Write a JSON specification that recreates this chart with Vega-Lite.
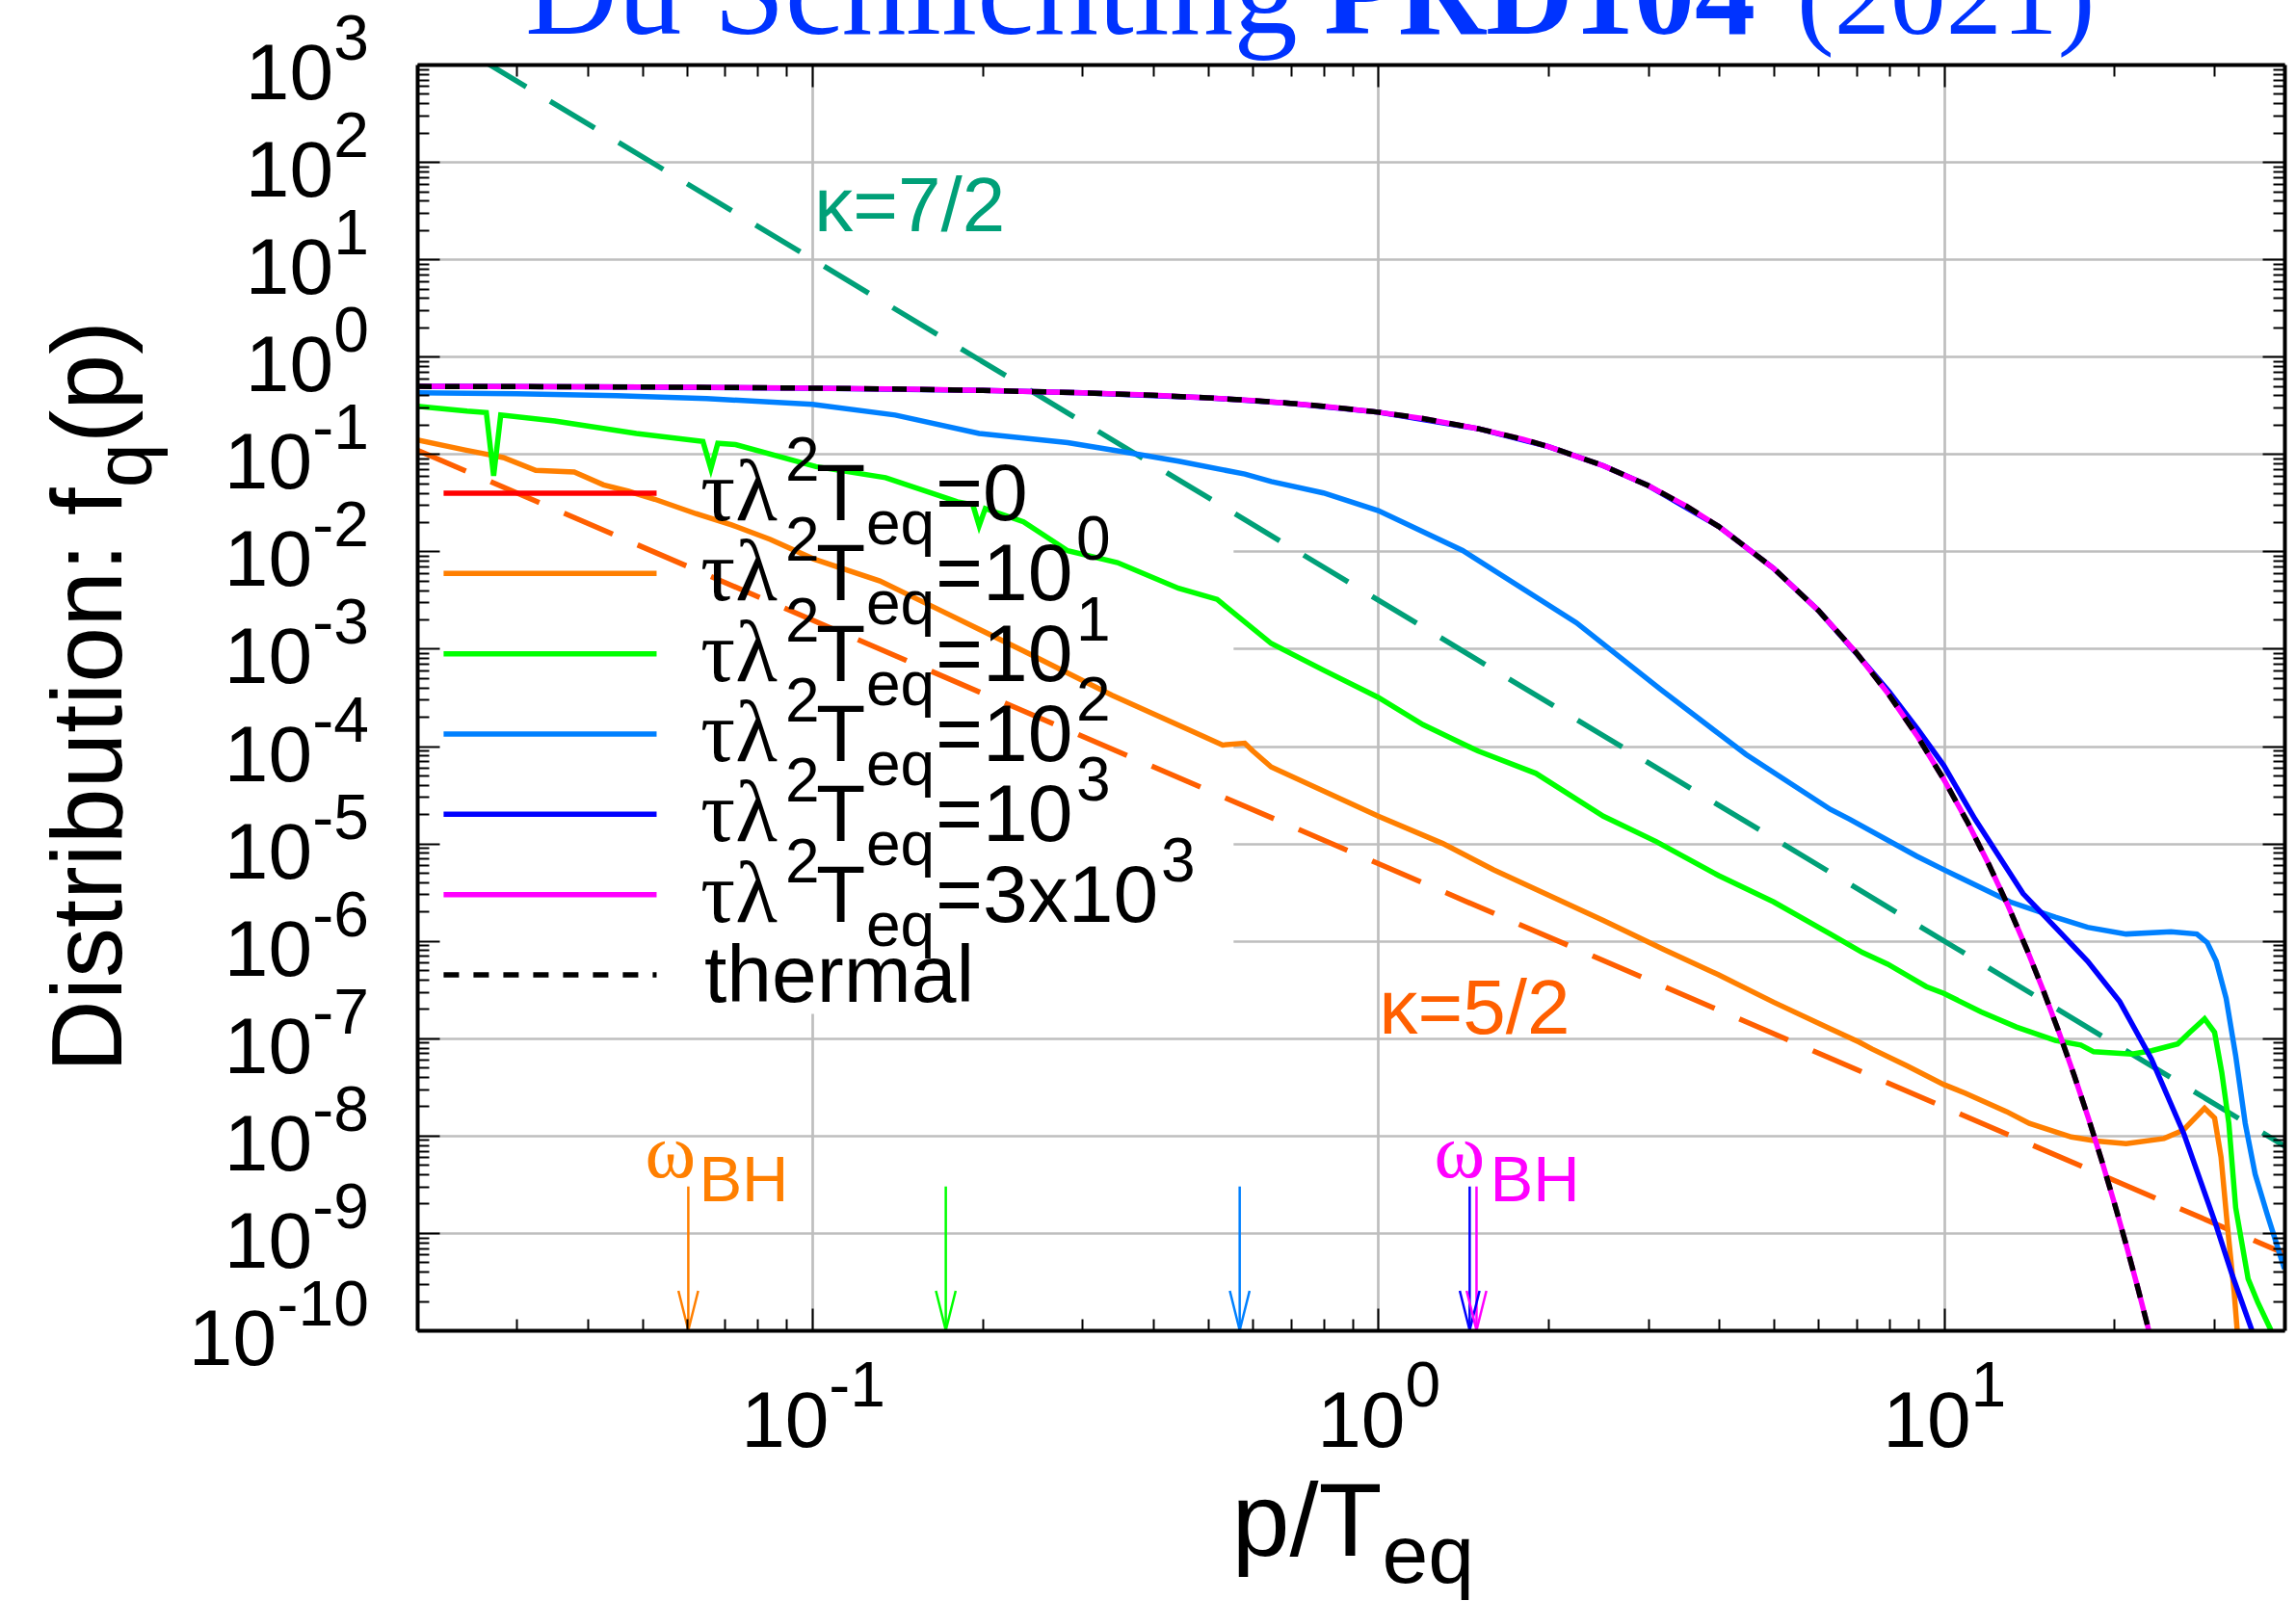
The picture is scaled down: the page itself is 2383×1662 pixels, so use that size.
{
 "$schema": "https://vega.github.io/schema/vega-lite/v6.json",
 "width": 1938,
 "height": 1314,
 "autosize": {"type": "none"},
 "padding": {"left": 433, "top": 67, "right": 12, "bottom": 281},
 "background": "white",
 "config": {"view": {"stroke": null}, "text": {"baseline": "alphabetic", "font": "Liberation Sans", "color": "black"}},
 "datasets": {
  "curves": [
   {"s":"1e0","x":0.02,"y":0.1396},{"s":"1e0","x":0.0243,"y":0.1099},{"s":"1e0","x":0.0284,"y":0.092},{"s":"1e0","x":0.0324,"y":0.0679},{"s":"1e0","x":0.0379,"y":0.0653},{"s":"1e0","x":0.0427,"y":0.0482},{"s":"1e0","x":0.0473,"y":0.0414},{"s":"1e0","x":0.0526,"y":0.0343},{"s":"1e0","x":0.0622,"y":0.0244},{"s":"1e0","x":0.0719,"y":0.0187},{"s":"1e0","x":0.0842,"y":0.01327},{"s":"1e0","x":0.1003,"y":0.008395},{"s":"1e0","x":0.1315,"y":0.004966},{"s":"1e0","x":0.1683,"y":0.002477},{"s":"1e0","x":0.236,"y":0.0009484},{"s":"1e0","x":0.3384,"y":0.0003334},{"s":"1e0","x":0.5309,"y":0.0001026},{"s":"1e0","x":0.5808,"y":0.0001072},{"s":"1e0","x":0.6,"y":8.913e-5},{"s":"1e0","x":0.647,"y":6.095e-5},{"s":"1e0","x":1.0,"y":1.905e-5},{"s":"1e0","x":1.3,"y":1.0e-5},{"s":"1e0","x":1.6,"y":5.37e-6},{"s":"1e0","x":2.0,"y":2.951e-6},{"s":"1e0","x":2.5,"y":1.622e-6},{"s":"1e0","x":3.2,"y":8.128e-7},{"s":"1e0","x":4.0,"y":4.467e-7},{"s":"1e0","x":5.0,"y":2.344e-7},{"s":"1e0","x":6.3,"y":1.25e-7},{"s":"1e0","x":7.08,"y":9.12e-8},{"s":"1e0","x":7.46,"y":7.762e-8},{"s":"1e0","x":8.61,"y":5.188e-8},{"s":"1e0","x":10,"y":3.342e-8},{"s":"1e0","x":10.9,"y":2.735e-8},{"s":"1e0","x":12.9,"y":1.766e-8},{"s":"1e0","x":14.16,"y":1.334e-8},{"s":"1e0","x":16.8,"y":9.683e-9},{"s":"1e0","x":18.6,"y":8.79e-9},{"s":"1e0","x":21.0,"y":8.26e-9},{"s":"1e0","x":24.5,"y":9.333e-9},{"s":"1e0","x":26.5,"y":1.138e-8},{"s":"1e0","x":28.9,"y":1.91e-8},{"s":"1e0","x":30.1,"y":1.514e-8},{"s":"1e0","x":30.9,"y":6.026e-9},{"s":"1e0","x":31.7,"y":1.211e-9},{"s":"1e0","x":32.6,"y":2.449e-10},{"s":"1e0","x":33.0,"y":1.0e-10},{"s":"1e0","x":33.3,"y":5.01e-11},
   {"s":"1e1","x":0.02,"y":0.3097},{"s":"1e1","x":0.0245,"y":0.2754},{"s":"1e1","x":0.0265,"y":0.2661},{"s":"1e1","x":0.0273,"y":0.0597},{"s":"1e1","x":0.0281,"y":0.2512},{"s":"1e1","x":0.035,"y":0.2188},{"s":"1e1","x":0.0488,"y":0.1626},{"s":"1e1","x":0.064,"y":0.1349},{"s":"1e1","x":0.0661,"y":0.07096},{"s":"1e1","x":0.068,"y":0.1288},{"s":"1e1","x":0.0731,"y":0.125},{"s":"1e1","x":0.1014,"y":0.0743},{"s":"1e1","x":0.1346,"y":0.05715},{"s":"1e1","x":0.1803,"y":0.03236},{"s":"1e1","x":0.192,"y":0.0302},{"s":"1e1","x":0.197,"y":0.01837},{"s":"1e1","x":0.202,"y":0.02754},{"s":"1e1","x":0.236,"y":0.02009},{"s":"1e1","x":0.2825,"y":0.01016},{"s":"1e1","x":0.346,"y":0.007674},{"s":"1e1","x":0.4436,"y":0.004178},{"s":"1e1","x":0.519,"y":0.003214},{"s":"1e1","x":0.647,"y":0.001132},{"s":"1e1","x":0.8,"y":0.000603},{"s":"1e1","x":1.0,"y":0.0003162},{"s":"1e1","x":1.2,"y":0.000166},{"s":"1e1","x":1.5,"y":8.913e-5},{"s":"1e1","x":1.9,"y":5.25e-5},{"s":"1e1","x":2.5,"y":1.905e-5},{"s":"1e1","x":3.1,"y":1.047e-5},{"s":"1e1","x":4.0,"y":4.677e-6},{"s":"1e1","x":5.0,"y":2.51e-6},{"s":"1e1","x":6.3,"y":1.175e-6},{"s":"1e1","x":7.18,"y":7.586e-7},{"s":"1e1","x":7.96,"y":5.754e-7},{"s":"1e1","x":9.31,"y":3.388e-7},{"s":"1e1","x":10,"y":2.884e-7},{"s":"1e1","x":11.64,"y":1.862e-7},{"s":"1e1","x":13.43,"y":1.303e-7},{"s":"1e1","x":15.74,"y":9.462e-8},{"s":"1e1","x":17.46,"y":8.511e-8},{"s":"1e1","x":18.4,"y":7.261e-8},{"s":"1e1","x":21.5,"y":6.871e-8},{"s":"1e1","x":23.3,"y":7.447e-8},{"s":"1e1","x":25.9,"y":8.73e-8},{"s":"1e1","x":27.2,"y":1.148e-7},{"s":"1e1","x":28.9,"y":1.585e-7},{"s":"1e1","x":30.1,"y":1.148e-7},{"s":"1e1","x":31.0,"y":4.426e-8},{"s":"1e1","x":31.9,"y":1.334e-8},{"s":"1e1","x":32.8,"y":1.82e-9},{"s":"1e1","x":34.5,"y":3.388e-10},{"s":"1e1","x":35.9,"y":1.928e-10},{"s":"1e1","x":37.8,"y":1.023e-10},{"s":"1e1","x":38.5,"y":6.31e-11},
   {"s":"1e2","x":0.02,"y":0.4256},{"s":"1e2","x":0.03,"y":0.4169},{"s":"1e2","x":0.045,"y":0.3981},{"s":"1e2","x":0.065,"y":0.3715},{"s":"1e2","x":0.1,"y":0.3236},{"s":"1e2","x":0.14,"y":0.2512},{"s":"1e2","x":0.197,"y":0.1626},{"s":"1e2","x":0.2825,"y":0.1306},{"s":"1e2","x":0.354,"y":0.1052},{"s":"1e2","x":0.4436,"y":0.08453},{"s":"1e2","x":0.581,"y":0.06223},{"s":"1e2","x":0.647,"y":0.05224},{"s":"1e2","x":0.8,"y":0.0398},{"s":"1e2","x":1.0,"y":0.0262},{"s":"1e2","x":1.41,"y":0.0102},{"s":"1e2","x":2.24,"y":0.00185},{"s":"1e2","x":3.16,"y":0.00038},{"s":"1e2","x":4.47,"y":8.2e-5},{"s":"1e2","x":6.3,"y":2.239e-5},{"s":"1e2","x":6.81,"y":1.778e-5},{"s":"1e2","x":8.95,"y":7.413e-6},{"s":"1e2","x":10,"y":5.37e-6},{"s":"1e2","x":13.1,"y":2.512e-6},{"s":"1e2","x":15.74,"y":1.75e-6},{"s":"1e2","x":17.95,"y":1.377e-6},{"s":"1e2","x":21.0,"y":1.175e-6},{"s":"1e2","x":25.2,"y":1.242e-6},{"s":"1e2","x":28.0,"y":1.175e-6},{"s":"1e2","x":29.2,"y":9.616e-7},{"s":"1e2","x":30.3,"y":6.194e-7},{"s":"1e2","x":31.55,"y":2.57e-7},{"s":"1e2","x":32.8,"y":6.607e-8},{"s":"1e2","x":34.1,"y":1.334e-8},{"s":"1e2","x":35.5,"y":4.018e-9},{"s":"1e2","x":37.3,"y":1.549e-9},{"s":"1e2","x":40,"y":4.285e-10},
   {"s":"1e3","x":0.02,"y":0.495},{"s":"1e3","x":0.05,"y":0.4875},{"s":"1e3","x":0.1,"y":0.475},{"s":"1e3","x":0.2,"y":0.4502},{"s":"1e3","x":0.3,"y":0.4256},{"s":"1e3","x":0.5,"y":0.3775},{"s":"1e3","x":0.7,"y":0.3318},{"s":"1e3","x":1.0,"y":0.2689},{"s":"1e3","x":1.5,"y":0.1824},{"s":"1e3","x":2.0,"y":0.1192},{"s":"1e3","x":2.5,"y":0.07586},{"s":"1e3","x":3,"y":0.04743},{"s":"1e3","x":4,"y":0.01799},{"s":"1e3","x":5,"y":0.006693},{"s":"1e3","x":6,"y":0.002473},{"s":"1e3","x":7,"y":0.0009},{"s":"1e3","x":8,"y":0.000363},{"s":"1e3","x":9,"y":0.000148},{"s":"1e3","x":10,"y":6.3e-5},{"s":"1e3","x":11.35,"y":1.78e-5},{"s":"1e3","x":13.8,"y":3.06e-6},{"s":"1e3","x":15.74,"y":1.38e-6},{"s":"1e3","x":17.95,"y":6.19e-7},{"s":"1e3","x":20.46,"y":2.37e-7},{"s":"1e3","x":23.28,"y":6.1e-8},{"s":"1e3","x":26.55,"y":1.05e-8},{"s":"1e3","x":30.27,"y":1.21e-9},{"s":"1e3","x":32.36,"y":3.66e-10},{"s":"1e3","x":35.0,"y":1.02e-10},{"s":"1e3","x":36.0,"y":4.5e-11},
   {"s":"3e3","x":0.02,"y":0.495},{"s":"3e3","x":0.03,"y":0.4925},{"s":"3e3","x":0.05,"y":0.4875},{"s":"3e3","x":0.07,"y":0.4825},{"s":"3e3","x":0.1,"y":0.475},{"s":"3e3","x":0.15,"y":0.4626},{"s":"3e3","x":0.2,"y":0.4502},{"s":"3e3","x":0.3,"y":0.4256},{"s":"3e3","x":0.4,"y":0.4013},{"s":"3e3","x":0.5,"y":0.3775},{"s":"3e3","x":0.6,"y":0.3543},{"s":"3e3","x":0.7,"y":0.3318},{"s":"3e3","x":0.8,"y":0.31},{"s":"3e3","x":1.0,"y":0.2689},{"s":"3e3","x":1.2,"y":0.2315},{"s":"3e3","x":1.5,"y":0.1824},{"s":"3e3","x":1.8,"y":0.1419},{"s":"3e3","x":2.0,"y":0.1192},{"s":"3e3","x":2.5,"y":0.07586},{"s":"3e3","x":3,"y":0.04743},{"s":"3e3","x":3.5,"y":0.02931},{"s":"3e3","x":4,"y":0.01799},{"s":"3e3","x":5,"y":0.006693},{"s":"3e3","x":6,"y":0.002473},{"s":"3e3","x":7,"y":0.0009111},{"s":"3e3","x":8,"y":0.0003354},{"s":"3e3","x":9,"y":0.0001234},{"s":"3e3","x":10,"y":4.54e-5},{"s":"3e3","x":11,"y":1.67e-5},{"s":"3e3","x":12,"y":6.144e-6},{"s":"3e3","x":13,"y":2.26e-6},{"s":"3e3","x":14,"y":8.315e-7},{"s":"3e3","x":15,"y":3.059e-7},{"s":"3e3","x":16,"y":1.125e-7},{"s":"3e3","x":17,"y":4.14e-8},{"s":"3e3","x":18,"y":1.523e-8},{"s":"3e3","x":19,"y":5.603e-9},{"s":"3e3","x":20,"y":2.061e-9},{"s":"3e3","x":21,"y":7.583e-10},{"s":"3e3","x":22,"y":2.79e-10},{"s":"3e3","x":23,"y":1.026e-10},{"s":"3e3","x":24,"y":3.775e-11},
   {"s":"thermal","x":0.02,"y":0.495},{"s":"thermal","x":0.03,"y":0.4925},{"s":"thermal","x":0.05,"y":0.4875},{"s":"thermal","x":0.07,"y":0.4825},{"s":"thermal","x":0.1,"y":0.475},{"s":"thermal","x":0.15,"y":0.4626},{"s":"thermal","x":0.2,"y":0.4502},{"s":"thermal","x":0.3,"y":0.4256},{"s":"thermal","x":0.4,"y":0.4013},{"s":"thermal","x":0.5,"y":0.3775},{"s":"thermal","x":0.6,"y":0.3543},{"s":"thermal","x":0.7,"y":0.3318},{"s":"thermal","x":0.8,"y":0.31},{"s":"thermal","x":1.0,"y":0.2689},{"s":"thermal","x":1.2,"y":0.2315},{"s":"thermal","x":1.5,"y":0.1824},{"s":"thermal","x":1.8,"y":0.1419},{"s":"thermal","x":2.0,"y":0.1192},{"s":"thermal","x":2.5,"y":0.07586},{"s":"thermal","x":3,"y":0.04743},{"s":"thermal","x":3.5,"y":0.02931},{"s":"thermal","x":4,"y":0.01799},{"s":"thermal","x":5,"y":0.006693},{"s":"thermal","x":6,"y":0.002473},{"s":"thermal","x":7,"y":0.0009111},{"s":"thermal","x":8,"y":0.0003354},{"s":"thermal","x":9,"y":0.0001234},{"s":"thermal","x":10,"y":4.54e-5},{"s":"thermal","x":11,"y":1.67e-5},{"s":"thermal","x":12,"y":6.144e-6},{"s":"thermal","x":13,"y":2.26e-6},{"s":"thermal","x":14,"y":8.315e-7},{"s":"thermal","x":15,"y":3.059e-7},{"s":"thermal","x":16,"y":1.125e-7},{"s":"thermal","x":17,"y":4.14e-8},{"s":"thermal","x":18,"y":1.523e-8},{"s":"thermal","x":19,"y":5.603e-9},{"s":"thermal","x":20,"y":2.061e-9},{"s":"thermal","x":21,"y":7.583e-10},{"s":"thermal","x":22,"y":2.79e-10},{"s":"thermal","x":23,"y":1.026e-10},{"s":"thermal","x":24,"y":3.775e-11}
  ],
  "kappa": [
   {"k":"7/2","x":0.026,"y":1115},{"k":"7/2","x":40,"y":7.816e-9},
   {"k":"5/2","x":0.02,"y":0.1098},{"k":"5/2","x":40,"y":6.14e-10}
  ],
  "arrows": [
   {"s":"1e0","x":0.0603},{"s":"1e1","x":0.172},{"s":"1e2","x":0.569},{"s":"1e3","x":1.451},{"s":"3e3","x":1.492}
  ],
  "ydec": [
   {"v":1000,"e":"3"},{"v":100,"e":"2"},{"v":10,"e":"1"},{"v":1,"e":"0"},{"v":0.1,"e":"-1"},{"v":0.01,"e":"-2"},{"v":0.001,"e":"-3"},{"v":0.0001,"e":"-4"},{"v":1e-5,"e":"-5"},{"v":1e-6,"e":"-6"},{"v":1e-7,"e":"-7"},{"v":1e-8,"e":"-8"},{"v":1e-9,"e":"-9"},{"v":1e-10,"e":"-10"}
  ],
  "xdec": [
   {"v":0.1,"e":"-1"},{"v":1,"e":"0"},{"v":10,"e":"1"}
  ],
  "legend": [
   {"s":"0","lab":"=0","ex":""},{"s":"1e0","lab":"=10","ex":"0"},{"s":"1e1","lab":"=10","ex":"1"},{"s":"1e2","lab":"=10","ex":"2"},{"s":"1e3","lab":"=10","ex":"3"},{"s":"3e3","lab":"=3x10","ex":"3"},{"s":"thermal","lab":"thermal","ex":""}
  ]
 },
 "layer": [
  {
   "layer": [
    {"data":{"values":[{}]},"mark":{"type":"rect","color":"white"},
     "encoding":{"x":{"datum":0.02,"type":"quantitative","scale":{"type":"log","domain":[0.02,40],"nice":false},"axis":null},"x2":{"datum":0.555},
      "y":{"datum":0.0933,"type":"quantitative","scale":{"type":"log","domain":[1e-10,1000],"nice":false},"axis":null},"y2":{"datum":1.778e-7}}},
    {"data":{"name":"kappa"},"transform":[{"filter":"datum.k == '7/2'"}],
     "mark":{"type":"line","color":"#00a078","strokeWidth":5.5,"strokeDash":[54,29],"clip":true},
     "encoding":{
      "x":{"field":"x","type":"quantitative","scale":{"type":"log","domain":[0.02,40],"nice":false},
       "axis":{"orient":"bottom","values":[0.1,1,10],"grid":true,"gridColor":"#bebebe","gridWidth":2.7,"ticks":false,"domain":false,"labels":false,"title":null,"zindex":0}},
      "y":{"field":"y","type":"quantitative","scale":{"type":"log","domain":[1e-10,1000],"nice":false},
       "axis":{"orient":"left","values":[1e-10,1e-9,1e-8,1e-7,1e-6,1e-5,1e-4,1e-3,0.01,0.1,1,10,100,1000],"grid":true,"gridColor":"#bebebe","gridWidth":2.7,"ticks":false,"domain":false,"labels":false,"title":null,"zindex":0}}}},
    {"data":{"name":"kappa"},"transform":[{"filter":"datum.k == '5/2'"}],
     "mark":{"type":"line","color":"#ff5f00","strokeWidth":5.5,"strokeDash":[55,28],"clip":true},
     "encoding":{
      "x":{"field":"x","type":"quantitative","scale":{"type":"log","domain":[0.02,40],"nice":false},
       "axis":{"orient":"bottom","values":[0.1,1,10],"grid":false,"ticks":true,"tickSize":-23,"tickWidth":2,"tickColor":"black","domain":true,"domainColor":"black","domainWidth":4,"labels":false,"title":null,"zindex":1}},
      "y":{"field":"y","type":"quantitative","scale":{"type":"log","domain":[1e-10,1000],"nice":false},
       "axis":{"orient":"left","values":[1e-10,1e-9,1e-8,1e-7,1e-6,1e-5,1e-4,1e-3,0.01,0.1,1,10,100,1000],"grid":false,"ticks":true,"tickSize":-23,"tickWidth":2,"tickColor":"black","domain":true,"domainColor":"black","domainWidth":4,"labels":false,"title":null,"zindex":1}}}},
    {"data":{"name":"curves"},"transform":[{"filter":{"field":"s","oneOf":["1e0","1e1","1e2","1e3"]}}],
     "mark":{"type":"line","strokeWidth":5.5,"clip":true},
     "encoding":{
      "x":{"field":"x","type":"quantitative","scale":{"type":"log","domain":[0.02,40],"nice":false},
       "axis":{"orient":"bottom","values":[0.03,0.04,0.05,0.06,0.07,0.08,0.09,0.2,0.3,0.4,0.5,0.6,0.7,0.8,0.9,2,3,4,5,6,7,8,9,20,30],"grid":false,"ticks":true,"tickSize":-12,"tickWidth":2,"tickColor":"black","domain":false,"labels":false,"title":null,"zindex":1}},
      "y":{"field":"y","type":"quantitative","scale":{"type":"log","domain":[1e-10,1000],"nice":false},
       "axis":{"orient":"left","values":[2e-10,3e-10,4e-10,5e-10,6e-10,7e-10,8e-10,9e-10,2e-9,3e-9,4e-9,5e-9,6e-9,7e-9,8e-9,9e-9,2e-8,3e-8,4e-8,5e-8,6e-8,7e-8,8e-8,9e-8,2e-7,3e-7,4e-7,5e-7,6e-7,7e-7,8e-7,9e-7,2e-6,3e-6,4e-6,5e-6,6e-6,7e-6,8e-6,9e-6,2e-5,3e-5,4e-5,5e-5,6e-5,7e-5,8e-5,9e-5,2e-4,3e-4,4e-4,5e-4,6e-4,7e-4,8e-4,9e-4,0.002,0.003,0.004,0.005,0.006,0.007,0.008,0.009,0.02,0.03,0.04,0.05,0.06,0.07,0.08,0.09,0.2,0.3,0.4,0.5,0.6,0.7,0.8,0.9,2,3,4,5,6,7,8,9,20,30,40,50,60,70,80,90,200,300,400,500,600,700,800,900],"grid":false,"ticks":true,"tickSize":-12,"tickWidth":2,"tickColor":"black","domain":false,"labels":false,"title":null,"zindex":1}},
      "color":{"field":"s","type":"nominal","scale":{"domain":["0","1e0","1e1","1e2","1e3","3e3","thermal"],"range":["#ff0000","#ff7f00","#00ff00","#0080ff","#0000ff","#ff00ff","#000000"]},"legend":null}}},
    {"data":{"name":"curves"},"transform":[{"filter":"datum.s == '3e3'"}],
     "mark":{"type":"line","color":"#ff00ff","strokeWidth":5.5,"clip":true},
     "encoding":{
      "x":{"field":"x","type":"quantitative","scale":{"type":"log","domain":[0.02,40],"nice":false},
       "axis":{"orient":"top","values":[0.1,1,10],"grid":false,"ticks":true,"tickSize":-23,"tickWidth":2,"tickColor":"black","domain":true,"domainColor":"black","domainWidth":4,"labels":false,"title":null,"zindex":1}},
      "y":{"field":"y","type":"quantitative","scale":{"type":"log","domain":[1e-10,1000],"nice":false},
       "axis":{"orient":"right","values":[1e-10,1e-9,1e-8,1e-7,1e-6,1e-5,1e-4,1e-3,0.01,0.1,1,10,100,1000],"grid":false,"ticks":true,"tickSize":-23,"tickWidth":2,"tickColor":"black","domain":true,"domainColor":"black","domainWidth":4,"labels":false,"title":null,"zindex":1}}}},
    {"data":{"name":"curves"},"transform":[{"filter":"datum.s == 'thermal'"}],
     "mark":{"type":"line","color":"#000000","strokeWidth":5.5,"strokeDash":[15,14],"clip":true},
     "encoding":{
      "x":{"field":"x","type":"quantitative","scale":{"type":"log","domain":[0.02,40],"nice":false},
       "axis":{"orient":"top","values":[0.03,0.04,0.05,0.06,0.07,0.08,0.09,0.2,0.3,0.4,0.5,0.6,0.7,0.8,0.9,2,3,4,5,6,7,8,9,20,30],"grid":false,"ticks":true,"tickSize":-12,"tickWidth":2,"tickColor":"black","domain":false,"labels":false,"title":null,"zindex":1}},
      "y":{"field":"y","type":"quantitative","scale":{"type":"log","domain":[1e-10,1000],"nice":false},
       "axis":{"orient":"right","values":[2e-10,3e-10,4e-10,5e-10,6e-10,7e-10,8e-10,9e-10,2e-9,3e-9,4e-9,5e-9,6e-9,7e-9,8e-9,9e-9,2e-8,3e-8,4e-8,5e-8,6e-8,7e-8,8e-8,9e-8,2e-7,3e-7,4e-7,5e-7,6e-7,7e-7,8e-7,9e-7,2e-6,3e-6,4e-6,5e-6,6e-6,7e-6,8e-6,9e-6,2e-5,3e-5,4e-5,5e-5,6e-5,7e-5,8e-5,9e-5,2e-4,3e-4,4e-4,5e-4,6e-4,7e-4,8e-4,9e-4,0.002,0.003,0.004,0.005,0.006,0.007,0.008,0.009,0.02,0.03,0.04,0.05,0.06,0.07,0.08,0.09,0.2,0.3,0.4,0.5,0.6,0.7,0.8,0.9,2,3,4,5,6,7,8,9,20,30,40,50,60,70,80,90,200,300,400,500,600,700,800,900],"grid":false,"ticks":true,"tickSize":-12,"tickWidth":2,"tickColor":"black","domain":false,"labels":false,"title":null,"zindex":1}}}},
    {"data":{"name":"arrows"},
     "mark":{"type":"rule","strokeWidth":2.5},
     "encoding":{
      "x":{"field":"x","type":"quantitative","scale":{"type":"log","domain":[0.02,40],"nice":false},"axis":null},
      "y":{"datum":3e-9,"type":"quantitative","scale":{"type":"log","domain":[1e-10,1000],"nice":false},"axis":null},
      "y2":{"datum":1e-10},
      "color":{"field":"s","type":"nominal","scale":{"domain":["0","1e0","1e1","1e2","1e3","3e3","thermal"],"range":["#ff0000","#ff7f00","#00ff00","#0080ff","#0000ff","#ff00ff","#000000"]},"legend":null}}},
    {"data":{"name":"arrows"},
     "mark":{"type":"point","shape":"M-0.5,-2L0,0L0.5,-2","size":1681,"filled":false,"strokeWidth":2.5,"opacity":1},
     "encoding":{
      "x":{"field":"x","type":"quantitative","scale":{"type":"log","domain":[0.02,40],"nice":false},"axis":null},
      "y":{"datum":1e-10,"type":"quantitative","scale":{"type":"log","domain":[1e-10,1000],"nice":false},"axis":null},
      "color":{"field":"s","type":"nominal","scale":{"domain":["0","1e0","1e1","1e2","1e3","3e3","thermal"],"range":["#ff0000","#ff7f00","#00ff00","#0080ff","#0000ff","#ff00ff","#000000"]},"legend":null}}},
    {"data":{"values":[{}]},"mark":{"type":"text","text":"ω","font":"Liberation Serif","fontSize":80,"color":"#ff7f00","align":"left","baseline":"alphabetic","dx":-45,"dy":-10},
     "encoding":{"x":{"datum":0.0603,"type":"quantitative","scale":{"type":"log","domain":[0.02,40],"nice":false},"axis":null},"y":{"datum":3e-9,"type":"quantitative","scale":{"type":"log","domain":[1e-10,1000],"nice":false},"axis":null}}},
    {"data":{"values":[{}]},"mark":{"type":"text","text":"BH","font":"Liberation Sans","fontSize":67,"color":"#ff7f00","align":"left","baseline":"alphabetic","dx":11,"dy":15},
     "encoding":{"x":{"datum":0.0603,"type":"quantitative","scale":{"type":"log","domain":[0.02,40],"nice":false},"axis":null},"y":{"datum":3e-9,"type":"quantitative","scale":{"type":"log","domain":[1e-10,1000],"nice":false},"axis":null}}},
    {"data":{"values":[{}]},"mark":{"type":"text","text":"ω","font":"Liberation Serif","fontSize":80,"color":"#ff00ff","align":"left","baseline":"alphabetic","dx":-44,"dy":-10},
     "encoding":{"x":{"datum":1.492,"type":"quantitative","scale":{"type":"log","domain":[0.02,40],"nice":false},"axis":null},"y":{"datum":3e-9,"type":"quantitative","scale":{"type":"log","domain":[1e-10,1000],"nice":false},"axis":null}}},
    {"data":{"values":[{}]},"mark":{"type":"text","text":"BH","font":"Liberation Sans","fontSize":67,"color":"#ff00ff","align":"left","baseline":"alphabetic","dx":14,"dy":15},
     "encoding":{"x":{"datum":1.492,"type":"quantitative","scale":{"type":"log","domain":[0.02,40],"nice":false},"axis":null},"y":{"datum":3e-9,"type":"quantitative","scale":{"type":"log","domain":[1e-10,1000],"nice":false},"axis":null}}},
    {"data":{"values":[{}]},"mark":{"type":"text","text":"κ=7/2","font":"Liberation Sans","fontSize":80,"color":"#00a078","align":"left","baseline":"alphabetic","dx":2,"dy":-29},
     "encoding":{"x":{"datum":0.1,"type":"quantitative","scale":{"type":"log","domain":[0.02,40],"nice":false},"axis":null},"y":{"datum":10,"type":"quantitative","scale":{"type":"log","domain":[1e-10,1000],"nice":false},"axis":null}}},
    {"data":{"values":[{}]},"mark":{"type":"text","text":"κ=5/2","font":"Liberation Sans","fontSize":80,"color":"#ff5f00","align":"left","baseline":"alphabetic","dx":1,"dy":-5},
     "encoding":{"x":{"datum":1,"type":"quantitative","scale":{"type":"log","domain":[0.02,40],"nice":false},"axis":null},"y":{"datum":1e-7,"type":"quantitative","scale":{"type":"log","domain":[1e-10,1000],"nice":false},"axis":null}}},
    {"data":{"values":[{}]},"mark":{"type":"text","text":"Du Schlichting","font":"Liberation Serif","fontSize":133,"color":"#0033ff","align":"left","baseline":"alphabetic","dx":112,"dy":-32},
     "encoding":{"x":{"datum":0.02,"type":"quantitative","scale":{"type":"log","domain":[0.02,40],"nice":false},"axis":null},"y":{"datum":1000,"type":"quantitative","scale":{"type":"log","domain":[1e-10,1000],"nice":false},"axis":null}}},
    {"data":{"values":[{}]},"mark":{"type":"text","text":"PRD104","font":"Liberation Serif","fontWeight":"bold","fontSize":126,"color":"#0033ff","align":"left","baseline":"alphabetic","dx":941,"dy":-32},
     "encoding":{"x":{"datum":0.02,"type":"quantitative","scale":{"type":"log","domain":[0.02,40],"nice":false},"axis":null},"y":{"datum":1000,"type":"quantitative","scale":{"type":"log","domain":[1e-10,1000],"nice":false},"axis":null}}},
    {"data":{"values":[{}]},"mark":{"type":"text","text":"(2021)","font":"Liberation Serif","fontSize":116,"color":"#0033ff","align":"left","baseline":"alphabetic","dx":1432,"dy":-32},
     "encoding":{"x":{"datum":0.02,"type":"quantitative","scale":{"type":"log","domain":[0.02,40],"nice":false},"axis":null},"y":{"datum":1000,"type":"quantitative","scale":{"type":"log","domain":[1e-10,1000],"nice":false},"axis":null}}},
    {"data":{"values":[{}]},"mark":{"type":"text","text":"p/T","font":"Liberation Sans","fontSize":108,"align":"right","baseline":"alphabetic","dx":4,"dy":234},
     "encoding":{"x":{"datum":1,"type":"quantitative","scale":{"type":"log","domain":[0.02,40],"nice":false},"axis":null},"y":{"datum":1e-10,"type":"quantitative","scale":{"type":"log","domain":[1e-10,1000],"nice":false},"axis":null}}},
    {"data":{"values":[{}]},"mark":{"type":"text","text":"eq","font":"Liberation Sans","fontSize":86,"align":"left","baseline":"alphabetic","dx":4,"dy":262},
     "encoding":{"x":{"datum":1,"type":"quantitative","scale":{"type":"log","domain":[0.02,40],"nice":false},"axis":null},"y":{"datum":1e-10,"type":"quantitative","scale":{"type":"log","domain":[1e-10,1000],"nice":false},"axis":null}}},
    {"data":{"values":[{}]},"mark":{"type":"text","text":"Distribution: f","font":"Liberation Sans","fontSize":104,"angle":270,"align":"right","baseline":"alphabetic","dx":-35,"dy":-307},
     "encoding":{"x":{"datum":0.02,"type":"quantitative","scale":{"type":"log","domain":[0.02,40],"nice":false},"axis":null},"y":{"datum":0.1,"type":"quantitative","scale":{"type":"log","domain":[1e-10,1000],"nice":false},"axis":null}}},
    {"data":{"values":[{}]},"mark":{"type":"text","text":"q","font":"Liberation Sans","fontSize":83,"angle":270,"align":"left","baseline":"alphabetic","dx":-35,"dy":-276},
     "encoding":{"x":{"datum":0.02,"type":"quantitative","scale":{"type":"log","domain":[0.02,40],"nice":false},"axis":null},"y":{"datum":0.1,"type":"quantitative","scale":{"type":"log","domain":[1e-10,1000],"nice":false},"axis":null}}},
    {"data":{"values":[{}]},"mark":{"type":"text","text":"(p)","font":"Liberation Sans","fontSize":104,"angle":270,"align":"left","baseline":"alphabetic","dx":11,"dy":-307},
     "encoding":{"x":{"datum":0.02,"type":"quantitative","scale":{"type":"log","domain":[0.02,40],"nice":false},"axis":null},"y":{"datum":0.1,"type":"quantitative","scale":{"type":"log","domain":[1e-10,1000],"nice":false},"axis":null}}},
    {"data":{"name":"ydec"},"transform":[{"filter":"length(datum.e) == 1"}],
     "mark":{"type":"text","text":"10","font":"Liberation Sans","fontSize":82,"align":"right","baseline":"alphabetic","dx":-87,"dy":36},
     "encoding":{"x":{"datum":0.02,"type":"quantitative","scale":{"type":"log","domain":[0.02,40],"nice":false},"axis":null},"y":{"field":"v","type":"quantitative","scale":{"type":"log","domain":[1e-10,1000],"nice":false},"axis":null}}},
    {"data":{"name":"ydec"},"transform":[{"filter":"length(datum.e) == 2"}],
     "mark":{"type":"text","text":"10","font":"Liberation Sans","fontSize":82,"align":"right","baseline":"alphabetic","dx":-109,"dy":36},
     "encoding":{"x":{"datum":0.02,"type":"quantitative","scale":{"type":"log","domain":[0.02,40],"nice":false},"axis":null},"y":{"field":"v","type":"quantitative","scale":{"type":"log","domain":[1e-10,1000],"nice":false},"axis":null}}},
    {"data":{"name":"ydec"},"transform":[{"filter":"length(datum.e) == 3"}],
     "mark":{"type":"text","text":"10","font":"Liberation Sans","fontSize":82,"align":"right","baseline":"alphabetic","dx":-146,"dy":36},
     "encoding":{"x":{"datum":0.02,"type":"quantitative","scale":{"type":"log","domain":[0.02,40],"nice":false},"axis":null},"y":{"field":"v","type":"quantitative","scale":{"type":"log","domain":[1e-10,1000],"nice":false},"axis":null}}},
    {"data":{"name":"ydec"},
     "mark":{"type":"text","font":"Liberation Sans","fontSize":66,"align":"right","baseline":"alphabetic","dx":-50,"dy":-5},
     "encoding":{"x":{"datum":0.02,"type":"quantitative","scale":{"type":"log","domain":[0.02,40],"nice":false},"axis":null},"y":{"field":"v","type":"quantitative","scale":{"type":"log","domain":[1e-10,1000],"nice":false},"axis":null},"text":{"field":"e"}}},
    {"data":{"name":"xdec"},"transform":[{"filter":"length(datum.e) == 1"}],
     "mark":{"type":"text","text":"10","font":"Liberation Sans","fontSize":82,"align":"right","baseline":"alphabetic","dx":28,"dy":121},
     "encoding":{"x":{"field":"v","type":"quantitative","scale":{"type":"log","domain":[0.02,40],"nice":false},"axis":null},"y":{"datum":1e-10,"type":"quantitative","scale":{"type":"log","domain":[1e-10,1000],"nice":false},"axis":null}}},
    {"data":{"name":"xdec"},"transform":[{"filter":"length(datum.e) == 2"}],
     "mark":{"type":"text","text":"10","font":"Liberation Sans","fontSize":82,"align":"right","baseline":"alphabetic","dx":17,"dy":121},
     "encoding":{"x":{"field":"v","type":"quantitative","scale":{"type":"log","domain":[0.02,40],"nice":false},"axis":null},"y":{"datum":1e-10,"type":"quantitative","scale":{"type":"log","domain":[1e-10,1000],"nice":false},"axis":null}}},
    {"data":{"name":"xdec"},"transform":[{"filter":"length(datum.e) == 1"}],
     "mark":{"type":"text","font":"Liberation Sans","fontSize":66,"align":"left","baseline":"alphabetic","dx":28,"dy":79},
     "encoding":{"x":{"field":"v","type":"quantitative","scale":{"type":"log","domain":[0.02,40],"nice":false},"axis":null},"y":{"datum":1e-10,"type":"quantitative","scale":{"type":"log","domain":[1e-10,1000],"nice":false},"axis":null},"text":{"field":"e"}}},
    {"data":{"name":"xdec"},"transform":[{"filter":"length(datum.e) == 2"}],
     "mark":{"type":"text","font":"Liberation Sans","fontSize":66,"align":"left","baseline":"alphabetic","dx":17,"dy":79},
     "encoding":{"x":{"field":"v","type":"quantitative","scale":{"type":"log","domain":[0.02,40],"nice":false},"axis":null},"y":{"datum":1e-10,"type":"quantitative","scale":{"type":"log","domain":[1e-10,1000],"nice":false},"axis":null},"text":{"field":"e"}}}
   ],
   "resolve": {"axis": {"x": "independent", "y": "independent"}}
  },
  {
   "data": {"name": "legend"},
   "encoding": {
    "y": {"field": "s", "type": "nominal", "scale": {"type": "point", "domain": ["0","1e0","1e1","1e2","1e3","3e3","thermal"], "range": [445, 945], "padding": 0}, "axis": null}
   },
   "layer": [
    {"transform":[{"filter":"datum.s != 'thermal'"}],
     "mark":{"type":"rule","strokeWidth":5.5},
     "encoding":{"x":{"datum":0.02227,"type":"quantitative","scale":{"type":"log","domain":[0.02,40],"nice":false},"axis":null},"x2":{"datum":0.053},
      "color":{"field":"s","type":"nominal","scale":{"domain":["0","1e0","1e1","1e2","1e3","3e3","thermal"],"range":["#ff0000","#ff7f00","#00ff00","#0080ff","#0000ff","#ff00ff","#000000"]},"legend":null}}},
    {"transform":[{"filter":"datum.s == 'thermal'"}],
     "mark":{"type":"rule","strokeWidth":5.5,"strokeDash":[16,15],"color":"#000000"},
     "encoding":{"x":{"datum":0.02227,"type":"quantitative","scale":{"type":"log","domain":[0.02,40],"nice":false},"axis":null},"x2":{"datum":0.053}}},
    {"transform":[{"filter":"datum.s != 'thermal'"}],
     "mark":{"type":"text","text":"τλ","font":"Liberation Serif","fontSize":90,"align":"left","baseline":"alphabetic","dx":294,"dy":28},
     "encoding":{"x":{"datum":0.02,"type":"quantitative","scale":{"type":"log","domain":[0.02,40],"nice":false},"axis":null}}},
    {"transform":[{"filter":"datum.s != 'thermal'"}],
     "mark":{"type":"text","text":"2","font":"Liberation Sans","fontSize":64,"align":"left","baseline":"alphabetic","dx":382,"dy":-13},
     "encoding":{"x":{"datum":0.02,"type":"quantitative","scale":{"type":"log","domain":[0.02,40],"nice":false},"axis":null}}},
    {"transform":[{"filter":"datum.s != 'thermal'"}],
     "mark":{"type":"text","text":"T","font":"Liberation Sans","fontSize":84,"align":"left","baseline":"alphabetic","dx":414,"dy":28},
     "encoding":{"x":{"datum":0.02,"type":"quantitative","scale":{"type":"log","domain":[0.02,40],"nice":false},"axis":null}}},
    {"transform":[{"filter":"datum.s != 'thermal'"}],
     "mark":{"type":"text","text":"eq","font":"Liberation Sans","fontSize":64,"align":"left","baseline":"alphabetic","dx":466,"dy":53},
     "encoding":{"x":{"datum":0.02,"type":"quantitative","scale":{"type":"log","domain":[0.02,40],"nice":false},"axis":null}}},
    {"transform":[{"filter":"datum.s != 'thermal'"}],
     "mark":{"type":"text","font":"Liberation Sans","fontSize":84,"align":"left","baseline":"alphabetic","dx":538,"dy":28},
     "encoding":{"x":{"datum":0.02,"type":"quantitative","scale":{"type":"log","domain":[0.02,40],"nice":false},"axis":null},"text":{"field":"lab"}}},
    {"transform":[{"filter":"datum.lab == '=10'"}],
     "mark":{"type":"text","font":"Liberation Sans","fontSize":64,"align":"left","baseline":"alphabetic","dx":684,"dy":-14},
     "encoding":{"x":{"datum":0.02,"type":"quantitative","scale":{"type":"log","domain":[0.02,40],"nice":false},"axis":null},"text":{"field":"ex"}}},
    {"transform":[{"filter":"datum.lab == '=3x10'"}],
     "mark":{"type":"text","font":"Liberation Sans","fontSize":64,"align":"left","baseline":"alphabetic","dx":772,"dy":-14},
     "encoding":{"x":{"datum":0.02,"type":"quantitative","scale":{"type":"log","domain":[0.02,40],"nice":false},"axis":null},"text":{"field":"ex"}}},
    {"transform":[{"filter":"datum.s == 'thermal'"}],
     "mark":{"type":"text","font":"Liberation Sans","fontSize":84,"align":"left","baseline":"alphabetic","dx":298,"dy":28},
     "encoding":{"x":{"datum":0.02,"type":"quantitative","scale":{"type":"log","domain":[0.02,40],"nice":false},"axis":null},"text":{"field":"lab"}}}
   ]
  }
 ],
 "resolve": {"scale": {"y": "independent"}, "axis": {"x": "independent", "y": "independent"}}
}
